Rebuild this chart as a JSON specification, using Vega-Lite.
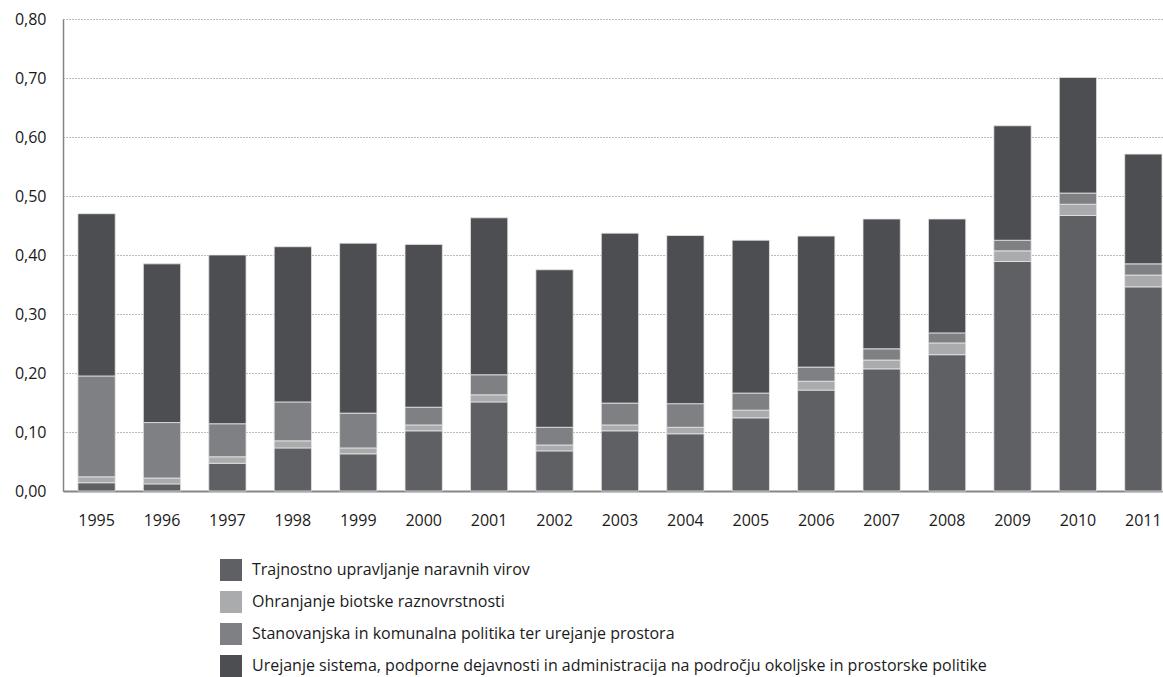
{
  "$schema": "https://vega.github.io/schema/vega-lite/v6.json",
  "width": 1099,
  "height": 472,
  "autosize": {"type": "none"},
  "padding": {"left": 63, "top": 19, "right": 1, "bottom": 186},
  "background": "white",
  "config": {
    "font": "Open Sans",
    "view": {"stroke": null}
  },
  "datasets": {
    "kats": [
      {"kat": "Trajnostno upravljanje naravnih virov", "r": 1},
      {"kat": "Ohranjanje biotske raznovrstnosti", "r": 2},
      {"kat": "Stanovanjska in komunalna politika ter urejanje prostora", "r": 3},
      {"kat": "Urejanje sistema, podporne dejavnosti in administracija na področju okoljske in prostorske politike", "r": 4}
    ],
    "d": [
      {"leto": "1995", "kat": "Trajnostno upravljanje naravnih virov", "v": 0.014},
      {"leto": "1995", "kat": "Ohranjanje biotske raznovrstnosti", "v": 0.010},
      {"leto": "1995", "kat": "Stanovanjska in komunalna politika ter urejanje prostora", "v": 0.171},
      {"leto": "1995", "kat": "Urejanje sistema, podporne dejavnosti in administracija na področju okoljske in prostorske politike", "v": 0.275},
      {"leto": "1996", "kat": "Trajnostno upravljanje naravnih virov", "v": 0.012},
      {"leto": "1996", "kat": "Ohranjanje biotske raznovrstnosti", "v": 0.010},
      {"leto": "1996", "kat": "Stanovanjska in komunalna politika ter urejanje prostora", "v": 0.094},
      {"leto": "1996", "kat": "Urejanje sistema, podporne dejavnosti in administracija na področju okoljske in prostorske politike", "v": 0.269},
      {"leto": "1997", "kat": "Trajnostno upravljanje naravnih virov", "v": 0.047},
      {"leto": "1997", "kat": "Ohranjanje biotske raznovrstnosti", "v": 0.011},
      {"leto": "1997", "kat": "Stanovanjska in komunalna politika ter urejanje prostora", "v": 0.056},
      {"leto": "1997", "kat": "Urejanje sistema, podporne dejavnosti in administracija na področju okoljske in prostorske politike", "v": 0.286},
      {"leto": "1998", "kat": "Trajnostno upravljanje naravnih virov", "v": 0.073},
      {"leto": "1998", "kat": "Ohranjanje biotske raznovrstnosti", "v": 0.012},
      {"leto": "1998", "kat": "Stanovanjska in komunalna politika ter urejanje prostora", "v": 0.066},
      {"leto": "1998", "kat": "Urejanje sistema, podporne dejavnosti in administracija na področju okoljske in prostorske politike", "v": 0.263},
      {"leto": "1999", "kat": "Trajnostno upravljanje naravnih virov", "v": 0.063},
      {"leto": "1999", "kat": "Ohranjanje biotske raznovrstnosti", "v": 0.010},
      {"leto": "1999", "kat": "Stanovanjska in komunalna politika ter urejanje prostora", "v": 0.059},
      {"leto": "1999", "kat": "Urejanje sistema, podporne dejavnosti in administracija na področju okoljske in prostorske politike", "v": 0.288},
      {"leto": "2000", "kat": "Trajnostno upravljanje naravnih virov", "v": 0.102},
      {"leto": "2000", "kat": "Ohranjanje biotske raznovrstnosti", "v": 0.010},
      {"leto": "2000", "kat": "Stanovanjska in komunalna politika ter urejanje prostora", "v": 0.030},
      {"leto": "2000", "kat": "Urejanje sistema, podporne dejavnosti in administracija na področju okoljske in prostorske politike", "v": 0.276},
      {"leto": "2001", "kat": "Trajnostno upravljanje naravnih virov", "v": 0.151},
      {"leto": "2001", "kat": "Ohranjanje biotske raznovrstnosti", "v": 0.012},
      {"leto": "2001", "kat": "Stanovanjska in komunalna politika ter urejanje prostora", "v": 0.034},
      {"leto": "2001", "kat": "Urejanje sistema, podporne dejavnosti in administracija na področju okoljske in prostorske politike", "v": 0.266},
      {"leto": "2002", "kat": "Trajnostno upravljanje naravnih virov", "v": 0.068},
      {"leto": "2002", "kat": "Ohranjanje biotske raznovrstnosti", "v": 0.010},
      {"leto": "2002", "kat": "Stanovanjska in komunalna politika ter urejanje prostora", "v": 0.030},
      {"leto": "2002", "kat": "Urejanje sistema, podporne dejavnosti in administracija na področju okoljske in prostorske politike", "v": 0.267},
      {"leto": "2003", "kat": "Trajnostno upravljanje naravnih virov", "v": 0.102},
      {"leto": "2003", "kat": "Ohranjanje biotske raznovrstnosti", "v": 0.010},
      {"leto": "2003", "kat": "Stanovanjska in komunalna politika ter urejanje prostora", "v": 0.037},
      {"leto": "2003", "kat": "Urejanje sistema, podporne dejavnosti in administracija na področju okoljske in prostorske politike", "v": 0.288},
      {"leto": "2004", "kat": "Trajnostno upravljanje naravnih virov", "v": 0.097},
      {"leto": "2004", "kat": "Ohranjanje biotske raznovrstnosti", "v": 0.011},
      {"leto": "2004", "kat": "Stanovanjska in komunalna politika ter urejanje prostora", "v": 0.040},
      {"leto": "2004", "kat": "Urejanje sistema, podporne dejavnosti in administracija na področju okoljske in prostorske politike", "v": 0.285},
      {"leto": "2005", "kat": "Trajnostno upravljanje naravnih virov", "v": 0.124},
      {"leto": "2005", "kat": "Ohranjanje biotske raznovrstnosti", "v": 0.013},
      {"leto": "2005", "kat": "Stanovanjska in komunalna politika ter urejanje prostora", "v": 0.029},
      {"leto": "2005", "kat": "Urejanje sistema, podporne dejavnosti in administracija na področju okoljske in prostorske politike", "v": 0.259},
      {"leto": "2006", "kat": "Trajnostno upravljanje naravnih virov", "v": 0.171},
      {"leto": "2006", "kat": "Ohranjanje biotske raznovrstnosti", "v": 0.015},
      {"leto": "2006", "kat": "Stanovanjska in komunalna politika ter urejanje prostora", "v": 0.024},
      {"leto": "2006", "kat": "Urejanje sistema, podporne dejavnosti in administracija na področju okoljske in prostorske politike", "v": 0.222},
      {"leto": "2007", "kat": "Trajnostno upravljanje naravnih virov", "v": 0.207},
      {"leto": "2007", "kat": "Ohranjanje biotske raznovrstnosti", "v": 0.015},
      {"leto": "2007", "kat": "Stanovanjska in komunalna politika ter urejanje prostora", "v": 0.019},
      {"leto": "2007", "kat": "Urejanje sistema, podporne dejavnosti in administracija na področju okoljske in prostorske politike", "v": 0.220},
      {"leto": "2008", "kat": "Trajnostno upravljanje naravnih virov", "v": 0.231},
      {"leto": "2008", "kat": "Ohranjanje biotske raznovrstnosti", "v": 0.020},
      {"leto": "2008", "kat": "Stanovanjska in komunalna politika ter urejanje prostora", "v": 0.017},
      {"leto": "2008", "kat": "Urejanje sistema, podporne dejavnosti in administracija na področju okoljske in prostorske politike", "v": 0.193},
      {"leto": "2009", "kat": "Trajnostno upravljanje naravnih virov", "v": 0.389},
      {"leto": "2009", "kat": "Ohranjanje biotske raznovrstnosti", "v": 0.018},
      {"leto": "2009", "kat": "Stanovanjska in komunalna politika ter urejanje prostora", "v": 0.018},
      {"leto": "2009", "kat": "Urejanje sistema, podporne dejavnosti in administracija na področju okoljske in prostorske politike", "v": 0.194},
      {"leto": "2010", "kat": "Trajnostno upravljanje naravnih virov", "v": 0.467},
      {"leto": "2010", "kat": "Ohranjanje biotske raznovrstnosti", "v": 0.019},
      {"leto": "2010", "kat": "Stanovanjska in komunalna politika ter urejanje prostora", "v": 0.019},
      {"leto": "2010", "kat": "Urejanje sistema, podporne dejavnosti in administracija na področju okoljske in prostorske politike", "v": 0.196},
      {"leto": "2011", "kat": "Trajnostno upravljanje naravnih virov", "v": 0.346},
      {"leto": "2011", "kat": "Ohranjanje biotske raznovrstnosti", "v": 0.020},
      {"leto": "2011", "kat": "Stanovanjska in komunalna politika ter urejanje prostora", "v": 0.019},
      {"leto": "2011", "kat": "Urejanje sistema, podporne dejavnosti in administracija na področju okoljske in prostorske politike", "v": 0.186}
    ]
  },
  "data": {"name": "d"},
  "transform": [
    {"lookup": "kat", "from": {"data": {"name": "kats"}, "key": "kat", "fields": ["r"]}}
  ],
  "mark": {"type": "bar", "stroke": "#e6e6e6", "strokeWidth": 0.8},
  "encoding": {
    "x": {
      "field": "leto",
      "type": "ordinal",
      "scale": {"paddingInner": 0.43, "paddingOuter": 0.114, "align": 1},
      "axis": {
        "title": null,
        "labelAngle": 0,
        "labelFontSize": 16,
        "labelColor": "#1a1a1a",
        "labelPadding": 21,
        "ticks": false,
        "domainColor": "#858585",
        "domainWidth": 2,
        "grid": false
      }
    },
    "y": {
      "field": "v",
      "type": "quantitative",
      "stack": "zero",
      "scale": {"domain": [0, 0.8], "nice": false},
      "axis": {
        "title": null,
        "values": [0, 0.1, 0.2, 0.3, 0.4, 0.5, 0.6, 0.7, 0.8],
        "labelExpr": "replace(format(datum.value, '.2f'), '.', ',')",
        "labelFontSize": 16,
        "labelColor": "#1a1a1a",
        "labelPadding": 17,
        "ticks": false,
        "domainColor": "#858585",
        "domainWidth": 1.5,
        "grid": true,
        "gridColor": "#777777",
        "gridDash": [1, 2],
        "gridWidth": 1
      }
    },
    "color": {
      "field": "kat",
      "type": "nominal",
      "scale": {
        "domain": [
          "Trajnostno upravljanje naravnih virov",
          "Ohranjanje biotske raznovrstnosti",
          "Stanovanjska in komunalna politika ter urejanje prostora",
          "Urejanje sistema, podporne dejavnosti in administracija na področju okoljske in prostorske politike"
        ],
        "range": ["#5f6064", "#aaabad", "#7f8083", "#4d4e52"]
      },
      "legend": {
        "title": null,
        "orient": "none",
        "legendX": 157,
        "legendY": 540,
        "direction": "vertical",
        "symbolType": "square",
        "symbolSize": 484,
        "symbolStrokeWidth": 0,
        "labelFontSize": 16,
        "labelColor": "#1a1a1a",
        "labelOffset": 10,
        "labelLimit": 1000,
        "rowPadding": 10
      }
    },
    "order": {"field": "r", "type": "quantitative", "sort": "ascending"}
  }
}
